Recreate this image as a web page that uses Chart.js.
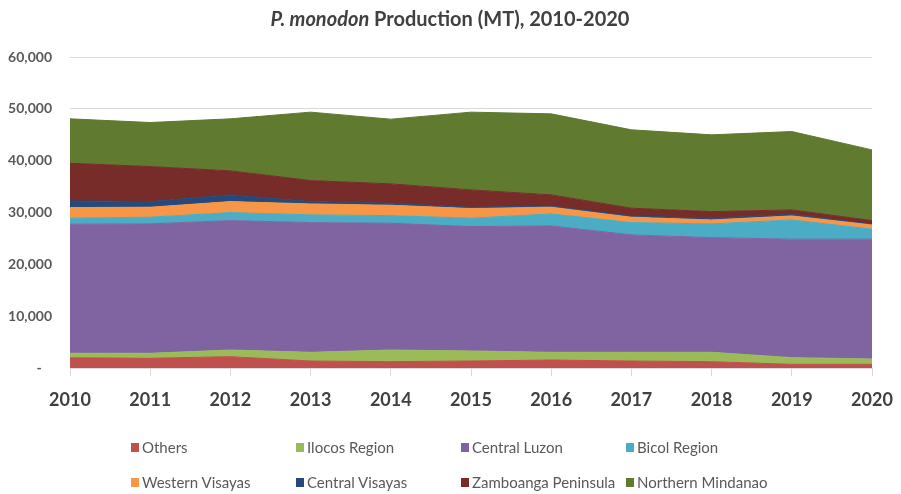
<!DOCTYPE html>
<html>
<head>
<meta charset="utf-8">
<script src="https://cdn.jsdelivr.net/npm/chart.js@4.4.1/dist/chart.umd.min.js"></script>
<style>
    html, body { margin: 0; padding: 0; background: #fff; }
    #wrap { position: relative; width: 901px; height: 494px; }
    #legend { position: absolute; left: 131px; top: 438px; font-family: Lato, "Open Sans", sans-serif; font-size: 15px; color: #595959; }
    #legend .row { display: flex; height: 35px; align-items: flex-start; }
    #legend .item { display: flex; align-items: center; min-width: 161px; padding-right: 4px; height: 18px; white-space: nowrap; }
    #legend .box { width: 8px; height: 9px; margin-right: 3px; }
</style>
</head>
<body>
<div id="wrap">
    <canvas id="myChart" width="901" height="494"></canvas>
    <div id="legend"></div>
</div>
<script>
var years = ["2010", "2011", "2012", "2013", "2014", "2015", "2016", "2017", "2018", "2019", "2020"];

// values in MT
var others = [1970, 1870, 2190, 1350, 1220, 1350, 1540, 1350, 1220, 710, 710];
var ilocos = [870, 970, 1280, 1680, 2250, 1930, 1490, 1680, 1810, 1290, 1030];
var centralLuzon = [24900, 24960, 24970, 25020, 24460, 24000, 24380, 22650, 22120, 22850, 23110];
var bicol = [1160, 1290, 1540, 1490, 1470, 1620, 2320, 2370, 2650, 3720, 1930];
var westernVisayas = [2050, 1930, 2120, 2120, 2000, 1860, 1290, 1040, 770, 770, 820];
var centralVisayas = [1290, 1080, 1300, 440, 390, 260, 250, 250, 330, 330, 140];
var zamboanga = [7260, 6760, 4630, 4060, 3730, 3340, 2130, 1490, 1270, 830, 700];
var northernMindanao = [8570, 8500, 10040, 13200, 12480, 15000, 15630, 15120, 14810, 15120, 13640];

var seriesNames = ["Others", "Ilocos Region", "Central Luzon", "Bicol Region",
    "Western Visayas", "Central Visayas", "Zamboanga Peninsula", "Northern Mindanao"];
var seriesData = [others, ilocos, centralLuzon, bicol, westernVisayas, centralVisayas, zamboanga, northernMindanao];
var seriesColors = ["#c0504d", "#9bbb59", "#8064a2", "#4bacc6", "#f79646", "#24497a", "#772c2a", "#607a30"];

var yTicks = [0, 10000, 20000, 30000, 40000, 50000, 60000];

var fontName = "Lato, 'Open Sans', sans-serif";

var datasets = [];
for (var i = 0; i < seriesNames.length; i++) {
    datasets.push({
        label: seriesNames[i],
        data: seriesData[i],
        backgroundColor: seriesColors[i],
        borderColor: seriesColors[i],
        borderWidth: 1,
        pointRadius: 0,
        tension: 0,
        fill: i == 0 ? "origin" : "-1"
    });
}

// title has an italic part, so draw it by hand
var titlePlugin = {
    id: "titlePlugin",
    afterDraw: function (chart) {
        var ctx = chart.ctx;
        var a = "P. monodon";
        var b = " Production (MT), 2010-2020";
        ctx.save();
        ctx.fillStyle = "#404040";
        ctx.textBaseline = "alphabetic";
        ctx.font = "italic bold 20px " + fontName;
        var wa = ctx.measureText(a).width;
        ctx.font = "bold 20px " + fontName;
        var wb = ctx.measureText(b).width;
        var x = 450 - (wa + wb) / 2;
        ctx.font = "italic bold 20px " + fontName;
        ctx.fillText(a, x, 26);
        ctx.font = "bold 20px " + fontName;
        ctx.fillText(b, x + wa, 26);
        ctx.restore();
    }
};

var myChart = new Chart(document.getElementById("myChart"), {
    type: "line",
    data: { labels: years, datasets: datasets },
    options: {
        responsive: false,
        animation: false,
        layout: { padding: { top: 57, right: 29, left: 0, bottom: 0 } },
        plugins: {
            legend: { display: false },
            title: { display: false },
            tooltip: { enabled: false }
        },
        scales: {
            x: {
                offset: false,
                border: { display: true, color: "#d9d9d9" },
                grid: { drawOnChartArea: false, drawTicks: true, tickLength: 8, color: "#d9d9d9" },
                ticks: { color: "#404040", padding: 13, font: { family: fontName, size: 18, weight: "bold" }, maxRotation: 0 },
                afterFit: function (scale) {
                    scale.height = 126;
                    scale.paddingLeft = 0;
                    scale.paddingRight = 0;
                }
            },
            y: {
                stacked: true,
                min: 0,
                max: 60000,
                border: { display: false },
                grid: { color: "#d9d9d9", drawTicks: false },
                afterBuildTicks: function (scale) {
                    scale.ticks = yTicks.map(function (v) { return { value: v }; });
                },
                ticks: {
                    color: "#595959",
                    padding: 18,
                    font: { family: fontName, size: 14, weight: "bold" },
                    callback: function (v) {
                        if (v == 0) return "-   ";
                        return v.toLocaleString("en-US");
                    }
                },
                afterFit: function (scale) { scale.width = 70; }
            }
        }
    },
    plugins: [titlePlugin]
});

// legend, two rows of four like the original
function buildLegend() {
    var legend = document.getElementById("legend");
    for (var r = 0; r < 2; r++) {
        var row = document.createElement("div");
        row.className = "row";
        for (var c = 0; c < 4; c++) {
            var k = r * 4 + c;
            var item = document.createElement("div");
            item.className = "item";
            item.innerHTML = '<span class="box" style="background:' + seriesColors[k] + '"></span><span>' + seriesNames[k] + '</span>';
            row.appendChild(item);
        }
        legend.appendChild(row);
    }
}
buildLegend();
</script>
</body>
</html>
